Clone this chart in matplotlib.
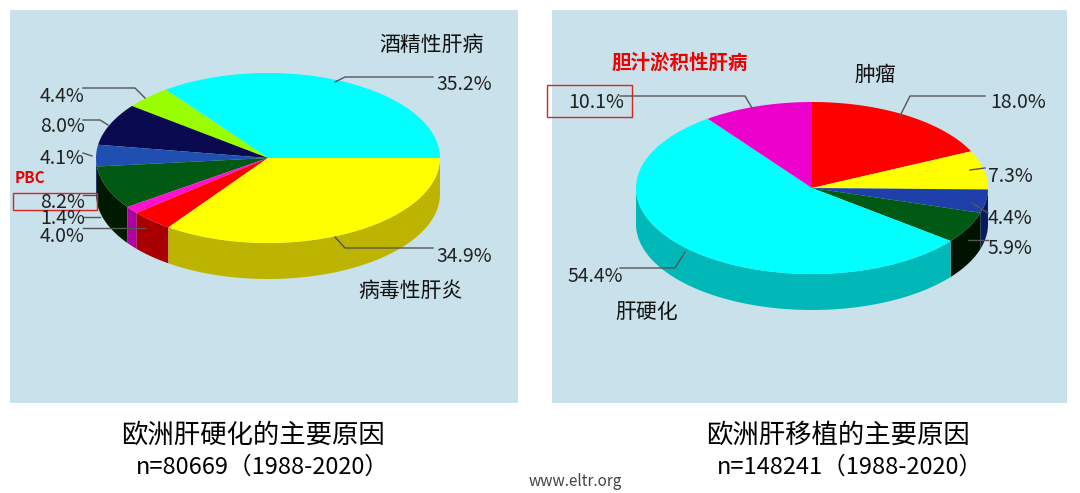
import numpy as np
import matplotlib
matplotlib.use("Agg")
import matplotlib.pyplot as plt
from matplotlib.patches import Polygon, Rectangle

plt.rcParams['font.family'] = ['Noto Sans CJK SC', 'DejaVu Sans']

# --- data ---
left_values = [35.2, 4.4, 8.0, 4.1, 8.2, 1.4, 4.0, 34.9]
left_colors = ['#00ffff', '#99ff00', '#0a0a50', '#1f4fb0', '#005a14', '#ff10d0', '#ff0000', '#ffff00']
left_sides = ['#00b0b0', '#70b000', '#050530', '#102a70', '#001a00', '#b000a0', '#a80000', '#bdb400']

right_values = [18.0, 7.3, 4.4, 5.9, 54.4, 10.1]
right_colors = ['#ff0000', '#ffff00', '#1f3faa', '#005a14', '#00ffff', '#ee00cc']
right_sides = ['#a80000', '#bdb400', '#0a1a60', '#001200', '#00b8b8', '#a0008a']

BG = '#c9e1ea'


def draw_pie(ax, values, colors, sides, cx, cy, rx, ry, depth, start, clockwise):
    fr = np.array(values) / sum(values) * 360.0
    sign = -1 if clockwise else 1
    a = start
    wedges = []
    for f in fr:
        b = a + sign * f
        wedges.append((min(a, b), max(a, b)))
        a = b
    # sides (front half only: angle where sin < 0)
    for (a0, a1), sc in zip(wedges, sides):
        t = np.radians(np.linspace(a0, a1, 200))
        mask = np.sin(t) < 0
        if mask.sum() < 2:
            continue
        tt = t[mask]
        x = cx + rx * np.cos(tt)
        y = cy - ry * np.sin(tt)
        pts = np.concatenate([np.column_stack([x, y]),
                              np.column_stack([x[::-1], y[::-1] + depth])])
        ax.add_patch(Polygon(pts, closed=True, facecolor=sc, edgecolor='none'))
    # tops
    for (a0, a1), c in zip(wedges, colors):
        t = np.radians(np.linspace(a0, a1, 200))
        x = cx + rx * np.cos(t)
        y = cy - ry * np.sin(t)
        pts = np.vstack([[cx, cy], np.column_stack([x, y])])
        ax.add_patch(Polygon(pts, closed=True, facecolor=c, edgecolor='none'))


fig = plt.figure(figsize=(10.8, 4.93), dpi=100)
ax = fig.add_axes([0, 0, 1, 1])
ax.set_xlim(0, 1080)
ax.set_ylim(493, 0)
ax.axis('off')

ax.add_patch(Rectangle((10, 10), 508, 393, facecolor=BG, edgecolor='none'))
ax.add_patch(Rectangle((552, 10), 515, 393, facecolor=BG, edgecolor='none'))

draw_pie(ax, left_values, left_colors, left_sides, 268, 158, 172, 85, 36, 0, False)
draw_pie(ax, right_values, right_colors, right_sides, 812, 188, 176, 86, 36, 90, True)

pct = dict(fontsize=14, color='#222222', va='center')
lc = dict(color='#555555', lw=1)


def lab(x, y, s, ha='left', line=None):
    ax.text(x, y, s, ha=ha, **pct)
    if line is not None:
        ax.plot(line[0], line[1], **lc)


# left pie labels
lab(436, 85, '35.2%', line=([335, 345, 433], [82, 77, 77]))
lab(436, 256, '34.9%', line=([335, 345, 433], [237, 248, 248]))
ax.text(432, 45, '酒精性肝病', ha='center', va='center', fontsize=15, color='#111111')
ax.text(410, 291, '病毒性肝炎', ha='center', va='center', fontsize=15, color='#111111')
lab(40, 96, '4.4%', line=([83, 135, 145], [88, 88, 98]))
lab(40, 127, '8.0%', line=([83, 100, 108], [120, 120, 125]))
lab(40, 158, '4.1%', line=([83, 92], [153, 156]))
ax.text(15, 178, 'PBC', color='#ee0000', fontsize=11, fontweight='bold', va='center')
lab(40, 202, '8.2%', line=([83, 95], [195, 195]))
ax.add_patch(Rectangle((13, 193), 84, 17, facecolor='none', edgecolor='#dd2222', lw=1))
lab(40, 218, '1.4%', line=([83, 100], [217, 217]))
lab(40, 236, '4.0%', line=([83, 145], [228, 228]))

# right pie labels
ax.text(680, 63, '胆汁淤积性肝病', ha='center', va='center', fontsize=14, color='#ee0000', fontweight='bold')
ax.text(875, 75, '肿瘤', ha='center', va='center', fontsize=15, color='#111111')
lab(568, 102, '10.1%', line=([620, 745, 752], [96, 96, 108]))
ax.add_patch(Rectangle((547, 85), 85, 32, facecolor='none', edgecolor='#dd2222', lw=1))
lab(990, 102, '18.0%', line=([900, 910, 985], [116, 96, 96]))
lab(988, 176, '7.3%', line=([970, 985], [170, 168]))
lab(988, 219, '4.4%', line=([972, 988], [203, 213]))
lab(988, 248, '5.9%', line=([968, 988], [240, 240]))
lab(568, 276, '54.4%', line=([620, 675, 685], [268, 268, 252]))
ax.text(647, 312, '肝硬化', ha='center', va='center', fontsize=15, color='#111111')

# captions
ax.text(253, 435, '欧洲肝硬化的主要原因', ha='center', va='center', fontsize=19)
ax.text(262, 467, 'n=80669（1988-2020）', ha='center', va='center', fontsize=17)
ax.text(838, 435, '欧洲肝移植的主要原因', ha='center', va='center', fontsize=19)
ax.text(850, 467, 'n=148241（1988-2020）', ha='center', va='center', fontsize=17)
ax.text(575, 481, 'www.eltr.org', ha='center', va='center', fontsize=11, color='#444444')

fig.savefig('out.png', dpi=100, facecolor='white')
